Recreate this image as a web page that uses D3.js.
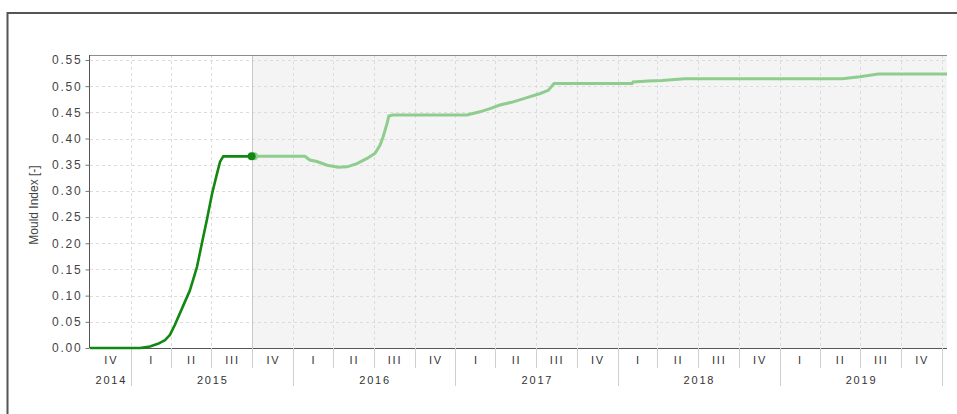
<!DOCTYPE html>
<html>
<head>
<meta charset="utf-8">
<script src="https://cdn.jsdelivr.net/npm/d3@7"></script>
<style>
  body { margin: 0; background: #fff; }
  svg { display: block; font-family: Arial, "Liberation Sans", sans-serif; }
</style>
</head>
<body>
<svg id="chart" width="957" height="414"></svg>
<script>
// measured part (dark green)
var measuredDates = ["2014-10-01", "2015-01-22", "2015-02-13", "2015-03-03", "2015-03-19", "2015-03-30",
  "2015-04-10", "2015-04-28", "2015-05-14", "2015-05-30", "2015-06-10", "2015-06-21", "2015-07-03",
  "2015-07-14", "2015-07-21", "2015-07-28", "2015-09-30"];
var measuredValues = [0, 0, 0.003, 0.008, 0.015, 0.025,
  0.044, 0.079, 0.11, 0.155, 0.2, 0.244, 0.295,
  0.333, 0.356, 0.366, 0.366];

// forecast part (light green)
var forecastDates = ["2015-10-01", "2016-01-28", "2016-02-08", "2016-02-24", "2016-03-18", "2016-04-12",
  "2016-05-02", "2016-05-24", "2016-06-16", "2016-07-04", "2016-07-15", "2016-07-22", "2016-07-31",
  "2016-08-04", "2016-08-13", "2017-01-27", "2017-02-25", "2017-03-20", "2017-04-11", "2017-05-11",
  "2017-06-11", "2017-07-11", "2017-07-29", "2017-08-11", "2018-02-03", "2018-02-05", "2018-03-11",
  "2018-04-11", "2018-06-01", "2019-05-22", "2019-07-01", "2019-08-11", "2020-01-13"];
var forecastValues = [0.366, 0.366, 0.359, 0.356, 0.349, 0.345,
  0.346, 0.352, 0.362, 0.372, 0.387, 0.403, 0.429,
  0.443, 0.445, 0.445, 0.451, 0.457, 0.464, 0.47,
  0.478, 0.486, 0.492, 0.505, 0.505, 0.508, 0.51,
  0.511, 0.514, 0.514, 0.518, 0.523, 0.523];

var yTicks = [0, 0.05, 0.1, 0.15, 0.2, 0.25, 0.3, 0.35, 0.4, 0.45, 0.5, 0.55];
var quarterNames = ["I", "II", "III", "IV"];
var yearNames = [2014, 2015, 2016, 2017, 2018, 2019];
var forecastStart = "2015-10-01";
var startDate = "2014-10-01", endDate = "2020-01-13", lastQuarterEnd = "2020-01-01";

var parse = d3.timeParse("%Y-%m-%d");
var fmt = d3.format(".2f");

var svg = d3.select("#chart");
var plotLeft = 90, plotRight = 947, plotTop = 55, plotBottom = 348;
var spacing = 1.8;

var x = d3.scaleTime().domain([parse(startDate), parse(endDate)]).range([plotLeft, plotRight]);
var y = d3.scaleLinear().domain([0, 0.5595]).range([plotBottom, plotTop]);

// outer frame
svg.append("path")
  .attr("d", "M7.5,414 V13 H957")
  .attr("fill", "none").attr("stroke", "#555").attr("stroke-width", 2);

// forecast shading
svg.append("rect")
  .attr("x", x(parse(forecastStart))).attr("y", plotTop)
  .attr("width", plotRight - x(parse(forecastStart))).attr("height", plotBottom - plotTop)
  .attr("fill", "#f4f4f4");

// grid
var quarters = d3.timeMonth.every(3).range(parse(startDate), parse(lastQuarterEnd));
var quarterEdges = quarters.concat([parse(lastQuarterEnd)]);
var gridQuarters = d3.timeMonth.every(3).range(d3.timeDay.offset(parse(startDate), 1), parse(endDate));

svg.append("g").selectAll("line")
  .data(yTicks.slice(1))
  .join("line")
    .attr("x1", plotLeft).attr("x2", plotRight)
    .attr("y1", d => Math.round(y(d)) + 0.5).attr("y2", d => Math.round(y(d)) + 0.5)
    .attr("stroke", "#dcdcdc").attr("stroke-dasharray", "3,3");

svg.append("g").selectAll("line")
  .data(gridQuarters)
  .join("line")
    .attr("x1", d => Math.round(x(d)) + 0.5).attr("x2", d => Math.round(x(d)) + 0.5)
    .attr("y1", plotTop).attr("y2", plotBottom)
    .attr("stroke", d => +d === +parse(forecastStart) ? "#c8c8c8" : "#dcdcdc")
    .attr("stroke-dasharray", d => +d === +parse(forecastStart) ? null : "3,3");

// plot border top
svg.append("line")
  .attr("x1", plotLeft).attr("x2", plotRight).attr("y1", plotTop + 0.5).attr("y2", plotTop + 0.5)
  .attr("stroke", "#8c8c8c");

// y axis
var yAxis = d3.axisLeft(y).tickValues(yTicks).tickFormat(fmt).tickSize(4).tickPadding(3);
var gy = svg.append("g").attr("transform", "translate(" + (plotLeft - 0.5) + ",0)").call(yAxis);
gy.select(".domain").attr("stroke", "#555").attr("d", "M0," + plotTop + "V" + plotBottom);
gy.selectAll(".tick line").attr("stroke", "#777");
gy.selectAll(".tick text").attr("fill", "#444").attr("font-size", 12)
  .attr("letter-spacing", spacing)
  .attr("font-family", "Arial, 'Liberation Sans', sans-serif");

svg.append("text")
  .attr("transform", "translate(38,205) rotate(-90)")
  .attr("text-anchor", "middle")
  .attr("font-size", 12).attr("fill", "#444")
  .text("Mould Index [-]");

// x axis line
svg.append("line")
  .attr("x1", plotLeft).attr("x2", plotRight).attr("y1", plotBottom + 0.5).attr("y2", plotBottom + 0.5)
  .attr("stroke", "#555");

// quarter separators and labels
var ax = svg.append("g");
ax.selectAll("line.q")
  .data(quarterEdges.slice(1))
  .join("line")
    .attr("class", "q")
    .attr("x1", d => Math.round(x(d)) + 0.5).attr("x2", d => Math.round(x(d)) + 0.5)
    .attr("y1", plotBottom).attr("y2", d => d.getMonth() === 0 ? 386 : 368)
    .attr("stroke", "#cfcfcf");

ax.selectAll("text.q")
  .data(quarters)
  .join("text")
    .attr("class", "q")
    .attr("x", d => (x(d) + x(d3.timeMonth.offset(d, 3))) / 2 + spacing / 2)
    .attr("y", 364)
    .attr("text-anchor", "middle")
    .attr("letter-spacing", spacing)
    .attr("font-size", 11).attr("fill", "#333")
    .text(d => quarterNames[Math.floor(d.getMonth() / 3)]);

ax.selectAll("text.y")
  .data(yearNames)
  .join("text")
    .attr("class", "y")
    .attr("x", d => {
      var a = Math.max(plotLeft, x(new Date(d, 0, 1)));
      var b = Math.min(x(new Date(d + 1, 0, 1)), x(parse(lastQuarterEnd)));
      return (a + b) / 2 + spacing / 2;
    })
    .attr("y", 384)
    .attr("text-anchor", "middle")
    .attr("letter-spacing", spacing)
    .attr("font-size", 11).attr("fill", "#333")
    .text(d => d);

// lines
var line = d3.line().x(d => x(d[0])).y(d => y(d[1]));
var measured = measuredDates.map((d, i) => [parse(d), measuredValues[i]]);
var forecast = forecastDates.map((d, i) => [parse(d), forecastValues[i]]);

svg.append("defs").append("clipPath").attr("id", "plot")
  .append("rect").attr("x", plotLeft).attr("y", plotTop)
  .attr("width", plotRight - plotLeft).attr("height", plotBottom - plotTop);

svg.append("path")
  .datum(forecast)
  .attr("d", line)
  .attr("clip-path", "url(#plot)")
  .attr("fill", "none").attr("stroke", "#8fcd8f").attr("stroke-width", 3);

svg.append("path")
  .datum(measured)
  .attr("d", line)
  .attr("fill", "none").attr("stroke", "#118811").attr("stroke-width", 2.6)
  .attr("stroke-linejoin", "round");

svg.append("circle")
  .attr("cx", x(forecast[0][0]) + 2).attr("cy", y(forecast[0][1]))
  .attr("r", 4).attr("fill", "#8fcd8f");
svg.append("circle")
  .attr("cx", x(measured[measured.length - 1][0])).attr("cy", y(measured[measured.length - 1][1]))
  .attr("r", 4).attr("fill", "#118811");
</script>
</body>
</html>
